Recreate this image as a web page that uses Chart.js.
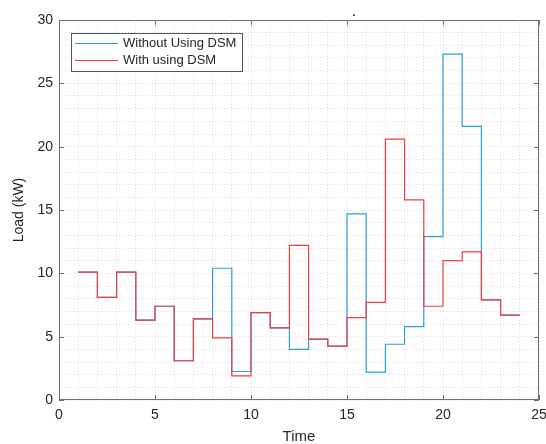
<!DOCTYPE html>
<html>
<head>
<meta charset="utf-8">
<script src="https://cdn.jsdelivr.net/npm/chart.js"></script>
<style>
  html, body { margin: 0; padding: 0; background: #fff; }
  canvas { display: block; }
</style>
</head>
<body>
<canvas id="loadChart" width="546" height="444"></canvas>
<script>
const hours = [1, 2, 3, 4, 5, 6, 7, 8, 9, 10, 11, 12, 13, 14, 15, 16, 17, 18, 19, 20, 21, 22, 23, 24];
const withoutDSM = [10.1, 8.1, 10.1, 6.3, 7.4, 3.1, 6.4, 10.4, 2.25, 6.9, 5.7, 4.0, 4.8, 4.25, 14.7, 2.2, 4.4, 5.8, 12.9, 27.3, 21.6, 7.9, 6.7, 6.7];
const withDSM = [10.1, 8.1, 10.1, 6.3, 7.4, 3.1, 6.4, 4.9, 1.9, 6.9, 5.7, 12.2, 4.8, 4.25, 6.5, 7.7, 20.6, 15.8, 7.4, 11.0, 11.7, 7.9, 6.7, 6.7];
const xTicks = [0, 5, 10, 15, 20, 25];
const yTicks = [0, 5, 10, 15, 20, 25, 30];
const seriesNames = ["Without Using DSM", "With using DSM"];
const seriesColors = ["#2a9fd8", "#f23c3c"];

const textColor = "#262626";
const fontFamily = "'Liberation Sans', Arial, sans-serif";

// box, inward major ticks, legend and the stray title dot
const matlabAxes = {
    id: "matlabAxes",
    afterDraw(chart) {
        const ctx = chart.ctx;
        const a = chart.chartArea;
        const xs = chart.scales.x;
        const ys = chart.scales.y;
        ctx.save();
        ctx.strokeStyle = "#6e6e6e";
        ctx.lineWidth = 1;
        ctx.strokeRect(a.left + 0.5, a.top + 0.5, a.right - a.left - 1, a.bottom - a.top - 1);
        ctx.beginPath();
        xTicks.forEach(t => {
            const px = Math.round(xs.getPixelForValue(t)) + 0.5;
            ctx.moveTo(px, a.bottom); ctx.lineTo(px, a.bottom - 5);
            ctx.moveTo(px, a.top); ctx.lineTo(px, a.top + 5);
        });
        yTicks.forEach(t => {
            const py = Math.round(ys.getPixelForValue(t)) + 0.5;
            ctx.moveTo(a.left, py); ctx.lineTo(a.left + 5, py);
            ctx.moveTo(a.right, py); ctx.lineTo(a.right - 5, py);
        });
        ctx.stroke();

        // legend
        const lx = 71, ly = 33, lw = 171, lh = 38;
        ctx.fillStyle = "#fff";
        ctx.fillRect(lx, ly, lw, lh);
        ctx.strokeStyle = "#555";
        ctx.strokeRect(lx + 0.5, ly + 0.5, lw, lh);
        ctx.font = "13px " + fontFamily;
        ctx.textBaseline = "middle";
        seriesNames.forEach((name, i) => {
            const yy = ly + 10.5 + i * 17;
            ctx.strokeStyle = seriesColors[i];
            ctx.lineWidth = 1.2;
            ctx.beginPath();
            ctx.moveTo(75, yy); ctx.lineTo(118, yy);
            ctx.stroke();
            ctx.fillStyle = textColor;
            ctx.fillText(name, 123, yy);
        });

        ctx.fillStyle = "#000";
        ctx.font = "bold 10px " + fontFamily;
        ctx.textAlign = "center";
        ctx.fillText(".", 354, 13);
        ctx.restore();
    }
};

// red series is drawn over the blue one
const makeSet = (i, values) => ({
    label: seriesNames[i],
    data: hours.map((h, k) => ({ x: h, y: values[k] })),
    borderColor: seriesColors[i],
    borderWidth: 1.2,
    stepped: "before",
    pointRadius: 0,
    fill: false,
    order: 1 - i
});

new Chart(document.getElementById("loadChart"), {
    type: "line",
    data: {
        datasets: [makeSet(0, withoutDSM), makeSet(1, withDSM)]
    },
    options: {
        responsive: false,
        animation: false,
        devicePixelRatio: 1,
        layout: { padding: { top: 20, right: 7, left: 0, bottom: 0 } },
        plugins: {
            legend: { display: false },
            tooltip: { enabled: false }
        },
        scales: {
            x: {
                type: "linear",
                min: 0,
                max: 25,
                afterFit: s => { s.height = 44; s.paddingRight = 0; s.paddingLeft = 0; },
                ticks: {
                    stepSize: 1,
                    autoSkip: false,
                    maxRotation: 0,
                    padding: 7,
                    color: textColor,
                    font: { family: fontFamily, size: 14 },
                    callback: v => (xTicks.includes(v) ? v : "")
                },
                grid: { color: "rgba(0,0,0,0.13)", drawTicks: false, lineWidth: 1 },
                border: { display: false, dash: [1, 2] },
                title: {
                    display: true,
                    text: "Time",
                    color: textColor,
                    font: { family: fontFamily, size: 15, lineHeight: 1 },
                    padding: 0
                }
            },
            y: {
                min: 0,
                max: 30,
                afterFit: s => { s.width = 59; },
                ticks: {
                    stepSize: 1,
                    autoSkip: false,
                    padding: 6,
                    color: textColor,
                    font: { family: fontFamily, size: 14 },
                    callback: v => (yTicks.includes(v) ? v : "")
                },
                grid: { color: "rgba(0,0,0,0.13)", drawTicks: false, lineWidth: 1 },
                border: { display: false, dash: [1, 2] },
                title: {
                    display: true,
                    text: "Load (kW)",
                    color: textColor,
                    font: { family: fontFamily, size: 14, lineHeight: 1 },
                    padding: { top: 12, bottom: 0 }
                }
            }
        }
    },
    plugins: [matlabAxes]
});
</script>
</body>
</html>
